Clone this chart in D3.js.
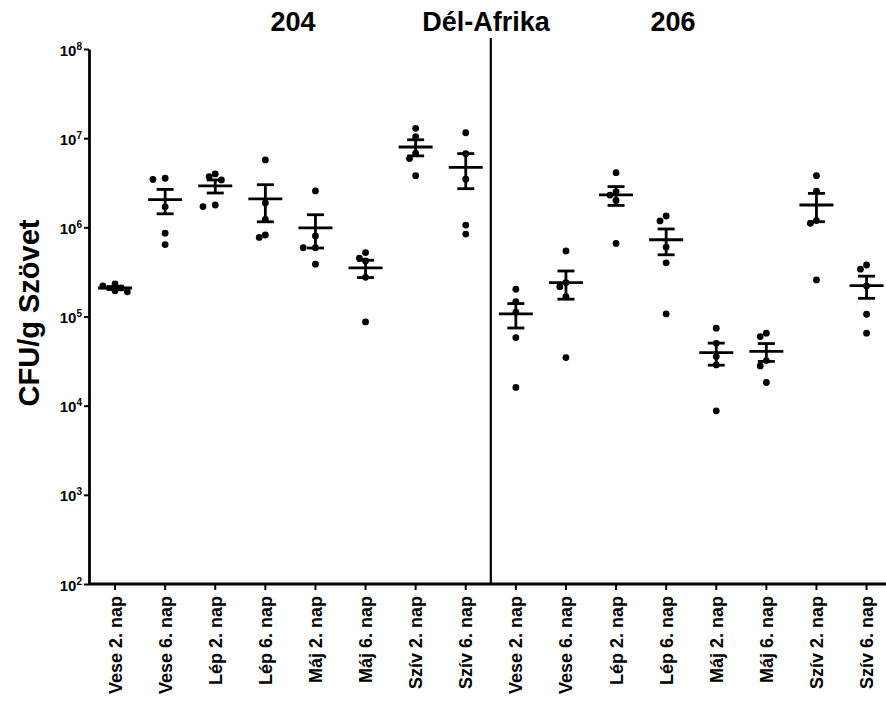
<!DOCTYPE html>
<html>
<head>
<meta charset="utf-8">
<script src="https://cdn.jsdelivr.net/npm/d3@7"></script>
<style>
  body { margin: 0; background: #fff; }
  text { font-family: Arial, "Liberation Sans", sans-serif; }
</style>
</head>
<body>
<div id="chart"></div>
<script>
// CFU/g szövet - 204 vs 206 törzs (Dél-Afrika)
var organs = ["Vese 2. nap", "Vese 6. nap", "Lép 2. nap", "Lép 6. nap",
              "Máj 2. nap", "Máj 6. nap", "Szív 2. nap", "Szív 6. nap"];
var strains = ["204", "206"];
var yTicks = [1e2, 1e3, 1e4, 1e5, 1e6, 1e7, 1e8];

// egyedi mérések (CFU/g), csoportonként
var strain204 = [
  [2.32e5, 2.2e5, 2.09e5, 1.94e5, 1.89e5],
  [3.55e6, 3.45e6, 1.7e6, 8.6e5, 6.4e5],
  [3.97e6, 3.7e6, 3.4e6, 1.78e6, 1.71e6],
  [5.7e6, 1.88e6, 1.23e6, 8.2e5, 7.7e5],
  [2.56e6, 8.0e5, 5.9e5, 5.9e5, 3.86e5],
  [5.2e5, 4.5e5, 4.2e5, 2.75e5, 8.7e4],
  [1.29e7, 1.04e7, 6.8e6, 5.9e6, 3.8e6],
  [1.15e7, 6.7e6, 3.46e6, 1.06e6, 8.4e5]
];
var strain206 = [
  [2.02e5, 1.47e5, 1.12e5, 5.8e4, 1.6e4],
  [5.43e5, 2.4e5, 2.16e5, 1.67e5, 3.46e4],
  [4.1e6, 2.5e6, 2.3e6, 2.0e6, 6.6e5],
  [1.34e6, 1.18e6, 6.0e5, 4.0e5, 1.07e5],
  [7.4e4, 5.0e4, 3.55e4, 2.86e4, 8.75e3],
  [6.5e4, 5.96e4, 3.2e4, 2.79e4, 1.82e4],
  [3.8e6, 2.54e6, 1.19e6, 1.11e6, 2.57e5],
  [3.78e5, 3.39e5, 2.2e5, 1.06e5, 6.5e4]
];

var width = 886, height = 706;
var svg = d3.select("#chart").append("svg")
  .attr("width", width).attr("height", height);

// minden oszlop: 8 szerv x 2 törzs
var groups = [];
[strain204, strain206].forEach(function (s, si) {
  s.forEach(function (vals, oi) {
    groups.push({ key: si * 8 + oi, strain: strains[si], organ: organs[oi], values: vals });
  });
});

var x = d3.scaleBand().domain(d3.range(16)).range([90, 891.6]);
var y = d3.scaleLog().domain([1e2, 1e8]).range([584, 49]);

// axes
var xAxis = svg.append("g")
  .attr("transform", "translate(0,584)")
  .call(d3.axisBottom(x).tickSize(6).tickSizeOuter(0)
    .tickFormat(function (d) { return groups[d].organ; }));
xAxis.select(".domain").attr("stroke-width", 2.8).attr("d", "M89,0H886");
xAxis.selectAll(".tick line").attr("stroke-width", 2);
xAxis.selectAll(".tick text")
  .attr("transform", "rotate(-90)")
  .attr("x", -12).attr("y", 0).attr("dy", "0.36em")
  .attr("text-anchor", "end")
  .style("font-size", "18px").style("font-weight", "bold")
  .attr("fill", "#000");

var yAxis = svg.append("g")
  .attr("transform", "translate(89,0)")
  .call(d3.axisLeft(y).tickValues(yTicks).tickSize(5).tickSizeOuter(0)
    .tickFormat(function () { return ""; }));
yAxis.select(".domain").attr("stroke-width", 2.8);
yAxis.selectAll(".tick line").attr("stroke-width", 2);
yAxis.selectAll(".tick text").each(function (d) {
  var t = d3.select(this).attr("x", -7).attr("dy", "0.4em")
    .attr("fill", "#000").style("font-weight", "bold").style("font-size", "15px");
  t.append("tspan").text("10");
  t.append("tspan").style("font-size", "10px").attr("dy", "-6")
    .text(Math.round(Math.log10(d)));
});

// panel elválasztó
svg.append("line")
  .attr("x1", x.step() * 8 + 90).attr("x2", x.step() * 8 + 90)
  .attr("y1", 38).attr("y2", 584)
  .attr("stroke", "#000").attr("stroke-width", 2.2);

// címek
svg.selectAll("text.title")
  .data([{ t: strains[0], x: 293 }, { t: "Dél-Afrika", x: 486 }, { t: strains[1], x: 673 }])
  .enter().append("text")
  .attr("class", "title")
  .attr("x", function (d) { return d.x; })
  .attr("y", 31)
  .attr("text-anchor", "middle")
  .style("font-size", "27px").style("font-weight", "bold")
  .text(function (d) { return d.t; });

svg.append("text")
  .attr("transform", "translate(39,313) rotate(-90)")
  .attr("text-anchor", "middle")
  .style("font-size", "29px").style("font-weight", "bold")
  .text("CFU/g Szövet");

// pontok (egyszerű beeswarm elrendezés)
var r = 3.4;
var g = svg.selectAll("g.grp").data(groups).enter().append("g")
  .attr("class", "grp")
  .attr("transform", function (d) { return "translate(" + (x(d.key) + x.bandwidth() / 2) + ",0)"; });

g.each(function (d) {
  var placed = [];
  d.values.slice().sort(function (a, b) { return b - a; }).forEach(function (v) {
    var py = y(v), px = 0;
    var cands = [0];
    for (var k = 1; k < 8; k++) { cands.push(-k * 2 * r * 0.9, k * 2 * r * 0.9); }
    for (var c = 0; c < cands.length; c++) {
      var ok = placed.every(function (p) {
        return Math.hypot(p.x - cands[c], p.y - py) >= 2 * r * 0.95;
      });
      if (ok) { px = cands[c]; break; }
    }
    placed.push({ x: px, y: py });
  });
  d3.select(this).selectAll("circle").data(placed).enter().append("circle")
    .attr("cx", function (p) { return p.x; })
    .attr("cy", function (p) { return p.y; })
    .attr("r", r).attr("fill", "#000");

  // átlag ± SEM
  var m = d3.mean(d.values);
  var sem = d3.deviation(d.values) / Math.sqrt(d.values.length);
  var sel = d3.select(this);
  sel.append("line").attr("x1", -17).attr("x2", 17)
    .attr("y1", y(m)).attr("y2", y(m))
    .attr("stroke", "#000").attr("stroke-width", 2.8);
  sel.append("line").attr("x1", 0).attr("x2", 0)
    .attr("y1", y(m + sem)).attr("y2", y(m - sem))
    .attr("stroke", "#000").attr("stroke-width", 2.8);
  [m + sem, m - sem].forEach(function (e) {
    sel.append("line").attr("x1", -8.5).attr("x2", 8.5)
      .attr("y1", y(e)).attr("y2", y(e))
      .attr("stroke", "#000").attr("stroke-width", 2.8);
  });
});
</script>
</body>
</html>
